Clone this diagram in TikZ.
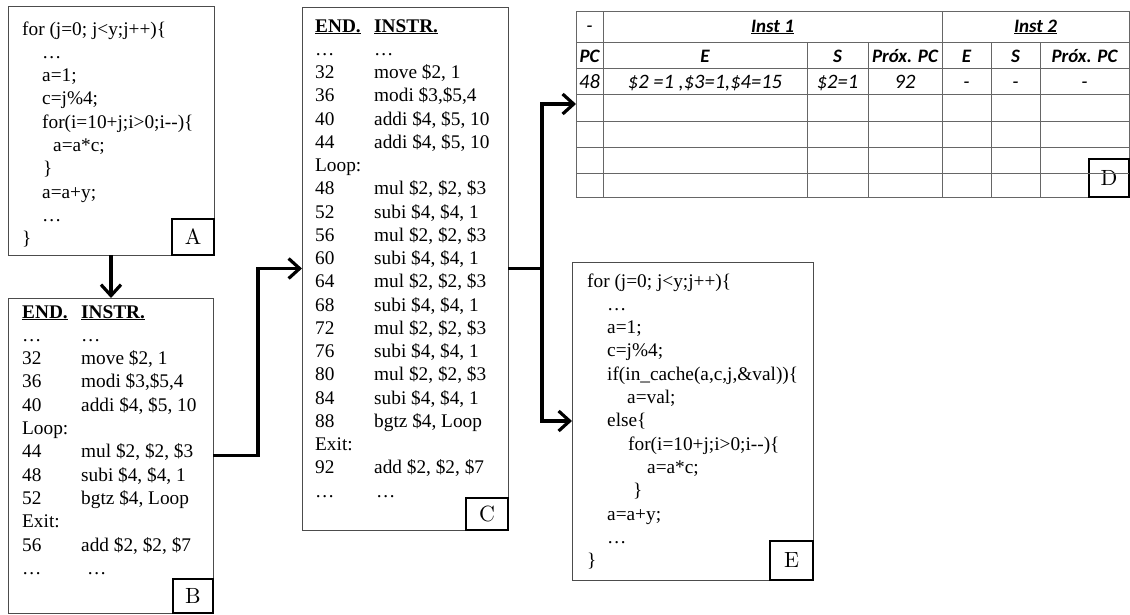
\documentclass[tikz,border=0pt]{standalone}
\usepackage{fontspec}
\setmainfont{Liberation Serif}
\newfontfamily\tabfont{Carlito}
\newfontfamily\labfont{lmroman10-regular}[Extension=.otf]
\usetikzlibrary{arrows.meta}
\definecolor{edgegray}{gray}{0.3}
\definecolor{gridgray}{gray}{0.4}
\tikzset{
  codebox/.style={draw=edgegray, line width=0.8pt, anchor=north west, inner sep=0pt, outer sep=0pt},
  letterbox/.style={draw=black, line width=1.1pt, anchor=south east, inner sep=0pt, outer sep=0pt,
    font=\labfont\fontsize{22}{26}\selectfont},
  code/.style={anchor=base west, inner sep=0pt, font=\fontsize{19.3}{23}\selectfont},
  cell/.style={anchor=base, inner sep=0pt, font=\tabfont\fontsize{20.5}{24}\selectfont\itshape},
  head/.style={cell, font=\tabfont\fontsize{19}{22}\selectfont\bfseries\itshape},
  grid line/.style={draw=gridgray, line width=0.9pt},
  flow/.style={line width=3.2pt, -{Straight Barb[length=11pt,width=20pt]}}
}
\begin{document}
\begin{tikzpicture}[x=1pt, y=-1pt]
\useasboundingbox (0,0) rectangle (1130,614);
% the five boxes
\node[codebox, minimum width=206, minimum height=249] (A) at (8,6) {};
\node[codebox, minimum width=205, minimum height=315] (B) at (8,298) {};
\node[codebox, minimum width=206, minimum height=523] (C) at (302,7) {};
\node[codebox, draw=gridgray, minimum width=553, minimum height=186] (D) at (576,11) {};
\node[codebox, minimum width=241, minimum height=318] (E) at (572,262) {};
\node[letterbox, minimum width=42, minimum height=36] (A-lab) at (A.south east) {A};
\node[letterbox, minimum width=40, minimum height=34] (B-lab) at (B.south east) {B};
\node[letterbox, minimum width=42, minimum height=32] (C-lab) at (C.south east) {C};
\node[letterbox, minimum width=40, minimum height=38] (D-lab) at (D.south east) {D};
\node[letterbox, minimum width=43, minimum height=39] (E-lab) at (E.south east) {E};
% source code A
\foreach \x/\t [count=\k from 0] in {22/{for (j=0; j<y;j++)\{}, 42/{\ldots}, 42/{a=1;}, 42/{c=j\%4;},
    42/{for(i=10+j;i>0;i-{}-)\{}, 53/{a=a*c;}, 43/{\}}, 42/{a=a+y;}, 42/{\ldots}, 22/{\}}}
  \node[code] (A-l\k) at (\x, 35+23.3*\k) {\t};
% assembly B
\foreach \n/\t [count=\k from 0] in {{\underline{\textbf{END.}}}/{\underline{\textbf{INSTR.}}}, \ldots/\ldots,
    32/{move \$2, 1}, 36/{modi \$3,\$5,4}, 40/{addi \$4, \$5, 10}, Loop:/{}, 44/{mul \$2, \$2, \$3},
    48/{subi \$4, \$4, 1}, 52/{bgtz \$4, Loop}, Exit:/{}, 56/{add \$2, \$2, \$7}, \ldots/{\hspace*{6pt}\ldots}}
{
  \node[code] (B-n\k) at (22, 318+23.3*\k) {\n};
  \node[code] (B-t\k) at (81, 318+23.3*\k) {\t};
}
% unrolled assembly C
\foreach \n/\t [count=\k from 0] in {{\underline{\textbf{END.}}}/{\underline{\textbf{INSTR.}}}, \ldots/\ldots,
    32/{move \$2, 1}, 36/{modi \$3,\$5,4}, 40/{addi \$4, \$5, 10}, 44/{addi \$4, \$5, 10}, Loop:/{},
    48/{mul \$2, \$2, \$3}, 52/{subi \$4, \$4, 1}, 56/{mul \$2, \$2, \$3}, 60/{subi \$4, \$4, 1},
    64/{mul \$2, \$2, \$3}, 68/{subi \$4, \$4, 1}, 72/{mul \$2, \$2, \$3}, 76/{subi \$4, \$4, 1},
    80/{mul \$2, \$2, \$3}, 84/{subi \$4, \$4, 1}, 88/{bgtz \$4, Loop}, Exit:/{}, 92/{add \$2, \$2, \$7},
    \ldots/{\hspace*{2pt}\ldots}}
{
  \node[code] (C-n\k) at (315, 32+23.26*\k) {\n};
  \node[code] (C-t\k) at (374, 32+23.26*\k) {\t};
}
% source code E
\foreach \x/\t [count=\k from 0] in {587/{for (j=0; j<y;j++)\{}, 607/{\ldots}, 607/{a=1;}, 607/{c=j\%4;},
    607/{if(in\_cache(a,c,j,\&val))\{}, 627/{a=val;}, 607/{else\{}, 628/{for(i=10+j;i>0;i-{}-)\{},
    647/{a=a*c;}, 633/{\}}, 607/{a=a+y;}, 607/{\ldots}, 587/{\}}}
  \node[code] (E-l\k) at (\x, 287+23.3*\k) {\t};
% table D
\foreach \y in {42,68,94,121,147,173}
  \draw[grid line] (576,\y) -- (1129,\y);
\draw[grid line] (603,11) -- (603,197);
\draw[grid line] (942,11) -- (942,197);
\foreach \x in {807,868,991,1040}
  \draw[grid line] (\x,42) -- (\x,197);
\node[cell] (D-dash) at (589.5,32) {-};
\node[head] (D-i1) at (772.5,32) {\underline{Inst 1}};
\node[head] (D-i2) at (1035.5,32) {\underline{Inst 2}};
\foreach \x/\t [count=\k] in {589.5/PC, 705/E, 837.5/S, 905/{Próx. PC}, 966.5/E, 1015.5/S, 1084.5/{Próx. PC}}
  \node[head] (D-h\k) at (\x,62) {\t};
\foreach \x/\t [count=\k] in {589.5/48, 705/{\$2 =1 ,\$3=1,\$4=15}, 837.5/{\$2=1}, 905/92, 966.5/-, 1015.5/-, 1084.5/-}
  \node[cell] (D-v\k) at (\x,88) {\t};
% arrows
\draw[flow] (A.south) -- (A.south |- B.north);
\draw[flow] (B.east) -- ++(45,0) |- (C.west);
\draw[flow] (C.east) -- ++(34,0) coordinate (fork) |- (D.west);
\draw[flow] (fork) |- (E.west);
\end{tikzpicture}
\end{document}
